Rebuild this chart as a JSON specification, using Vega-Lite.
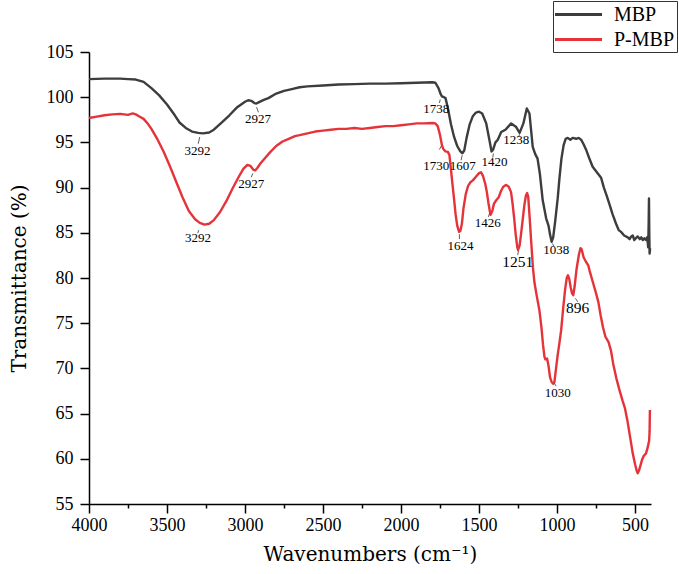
{
  "$schema": "https://vega.github.io/schema/vega-lite/v6.json",
  "width": 562,
  "height": 452,
  "autosize": "none",
  "padding": {"left": 89, "top": 52, "right": 28, "bottom": 70},
  "background": "white",
  "config": {
    "view": {"stroke": null},
    "axis": {
      "grid": false,
      "domainColor": "black",
      "domainWidth": 1.5,
      "tickColor": "black",
      "tickWidth": 1.5,
      "labelColor": "black",
      "labelFont": "Liberation Serif",
      "labelFontSize": 18,
      "titleColor": "black",
      "titleFont": "DejaVu Serif",
      "titleFontSize": 20,
      "titleFontWeight": "normal",
      "labelOverlap": false,
      "labelFlush": false
    }
  },
  "datasets": {
    "spectra": [
      {"sample":"MBP","wavenumber":4000,"transmittance":102.0},
      {"sample":"MBP","wavenumber":3900,"transmittance":102.05},
      {"sample":"MBP","wavenumber":3800,"transmittance":102.05},
      {"sample":"MBP","wavenumber":3750,"transmittance":102.0},
      {"sample":"MBP","wavenumber":3700,"transmittance":101.95},
      {"sample":"MBP","wavenumber":3650,"transmittance":101.7},
      {"sample":"MBP","wavenumber":3600,"transmittance":101.0},
      {"sample":"MBP","wavenumber":3550,"transmittance":100.2},
      {"sample":"MBP","wavenumber":3500,"transmittance":99.2},
      {"sample":"MBP","wavenumber":3450,"transmittance":98.0},
      {"sample":"MBP","wavenumber":3420,"transmittance":97.2},
      {"sample":"MBP","wavenumber":3380,"transmittance":96.6},
      {"sample":"MBP","wavenumber":3340,"transmittance":96.2},
      {"sample":"MBP","wavenumber":3300,"transmittance":96.05},
      {"sample":"MBP","wavenumber":3270,"transmittance":96.0},
      {"sample":"MBP","wavenumber":3230,"transmittance":96.1},
      {"sample":"MBP","wavenumber":3200,"transmittance":96.4},
      {"sample":"MBP","wavenumber":3150,"transmittance":97.2},
      {"sample":"MBP","wavenumber":3100,"transmittance":98.0},
      {"sample":"MBP","wavenumber":3050,"transmittance":98.9},
      {"sample":"MBP","wavenumber":3000,"transmittance":99.5},
      {"sample":"MBP","wavenumber":2980,"transmittance":99.66},
      {"sample":"MBP","wavenumber":2960,"transmittance":99.6},
      {"sample":"MBP","wavenumber":2940,"transmittance":99.35},
      {"sample":"MBP","wavenumber":2927,"transmittance":99.3},
      {"sample":"MBP","wavenumber":2910,"transmittance":99.45},
      {"sample":"MBP","wavenumber":2880,"transmittance":99.7},
      {"sample":"MBP","wavenumber":2850,"transmittance":99.9},
      {"sample":"MBP","wavenumber":2800,"transmittance":100.4},
      {"sample":"MBP","wavenumber":2750,"transmittance":100.7},
      {"sample":"MBP","wavenumber":2700,"transmittance":100.9},
      {"sample":"MBP","wavenumber":2650,"transmittance":101.1},
      {"sample":"MBP","wavenumber":2600,"transmittance":101.2},
      {"sample":"MBP","wavenumber":2500,"transmittance":101.3},
      {"sample":"MBP","wavenumber":2400,"transmittance":101.4},
      {"sample":"MBP","wavenumber":2300,"transmittance":101.45},
      {"sample":"MBP","wavenumber":2200,"transmittance":101.5},
      {"sample":"MBP","wavenumber":2100,"transmittance":101.5},
      {"sample":"MBP","wavenumber":2000,"transmittance":101.55},
      {"sample":"MBP","wavenumber":1900,"transmittance":101.6},
      {"sample":"MBP","wavenumber":1800,"transmittance":101.65},
      {"sample":"MBP","wavenumber":1780,"transmittance":101.6},
      {"sample":"MBP","wavenumber":1760,"transmittance":101.0},
      {"sample":"MBP","wavenumber":1745,"transmittance":100.3},
      {"sample":"MBP","wavenumber":1738,"transmittance":100.1},
      {"sample":"MBP","wavenumber":1725,"transmittance":100.0},
      {"sample":"MBP","wavenumber":1715,"transmittance":99.9},
      {"sample":"MBP","wavenumber":1700,"transmittance":98.8},
      {"sample":"MBP","wavenumber":1680,"transmittance":97.0},
      {"sample":"MBP","wavenumber":1660,"transmittance":95.6},
      {"sample":"MBP","wavenumber":1640,"transmittance":94.6},
      {"sample":"MBP","wavenumber":1620,"transmittance":94.0},
      {"sample":"MBP","wavenumber":1607,"transmittance":93.8},
      {"sample":"MBP","wavenumber":1595,"transmittance":94.1},
      {"sample":"MBP","wavenumber":1580,"transmittance":95.5},
      {"sample":"MBP","wavenumber":1560,"transmittance":97.0},
      {"sample":"MBP","wavenumber":1540,"transmittance":97.9},
      {"sample":"MBP","wavenumber":1520,"transmittance":98.3},
      {"sample":"MBP","wavenumber":1500,"transmittance":98.4},
      {"sample":"MBP","wavenumber":1480,"transmittance":98.2},
      {"sample":"MBP","wavenumber":1454,"transmittance":97.1},
      {"sample":"MBP","wavenumber":1433,"transmittance":95.2},
      {"sample":"MBP","wavenumber":1420,"transmittance":94.0},
      {"sample":"MBP","wavenumber":1410,"transmittance":94.2},
      {"sample":"MBP","wavenumber":1395,"transmittance":95.0},
      {"sample":"MBP","wavenumber":1380,"transmittance":95.3},
      {"sample":"MBP","wavenumber":1358,"transmittance":96.15},
      {"sample":"MBP","wavenumber":1331,"transmittance":96.4},
      {"sample":"MBP","wavenumber":1310,"transmittance":96.8},
      {"sample":"MBP","wavenumber":1294,"transmittance":97.1},
      {"sample":"MBP","wavenumber":1262,"transmittance":96.7},
      {"sample":"MBP","wavenumber":1240,"transmittance":96.05},
      {"sample":"MBP","wavenumber":1216,"transmittance":97.1},
      {"sample":"MBP","wavenumber":1194,"transmittance":98.75},
      {"sample":"MBP","wavenumber":1177,"transmittance":98.2},
      {"sample":"MBP","wavenumber":1156,"transmittance":94.5},
      {"sample":"MBP","wavenumber":1140,"transmittance":93.7},
      {"sample":"MBP","wavenumber":1125,"transmittance":93.2},
      {"sample":"MBP","wavenumber":1110,"transmittance":91.5},
      {"sample":"MBP","wavenumber":1092,"transmittance":88.6},
      {"sample":"MBP","wavenumber":1070,"transmittance":86.6},
      {"sample":"MBP","wavenumber":1055,"transmittance":85.8},
      {"sample":"MBP","wavenumber":1045,"transmittance":84.8},
      {"sample":"MBP","wavenumber":1035,"transmittance":84.0},
      {"sample":"MBP","wavenumber":1025,"transmittance":84.5},
      {"sample":"MBP","wavenumber":1012,"transmittance":86.3},
      {"sample":"MBP","wavenumber":996,"transmittance":88.8},
      {"sample":"MBP","wavenumber":985,"transmittance":91.0},
      {"sample":"MBP","wavenumber":972,"transmittance":93.2},
      {"sample":"MBP","wavenumber":958,"transmittance":94.7},
      {"sample":"MBP","wavenumber":945,"transmittance":95.4},
      {"sample":"MBP","wavenumber":932,"transmittance":95.5},
      {"sample":"MBP","wavenumber":915,"transmittance":95.3},
      {"sample":"MBP","wavenumber":900,"transmittance":95.5},
      {"sample":"MBP","wavenumber":878,"transmittance":95.4},
      {"sample":"MBP","wavenumber":862,"transmittance":95.5},
      {"sample":"MBP","wavenumber":846,"transmittance":95.3},
      {"sample":"MBP","wavenumber":830,"transmittance":94.8},
      {"sample":"MBP","wavenumber":814,"transmittance":94.2},
      {"sample":"MBP","wavenumber":795,"transmittance":93.3},
      {"sample":"MBP","wavenumber":772,"transmittance":92.3},
      {"sample":"MBP","wavenumber":745,"transmittance":91.7},
      {"sample":"MBP","wavenumber":718,"transmittance":91.1},
      {"sample":"MBP","wavenumber":700,"transmittance":90.0},
      {"sample":"MBP","wavenumber":680,"transmittance":89.0},
      {"sample":"MBP","wavenumber":665,"transmittance":88.2},
      {"sample":"MBP","wavenumber":645,"transmittance":87.1},
      {"sample":"MBP","wavenumber":622,"transmittance":86.0},
      {"sample":"MBP","wavenumber":605,"transmittance":85.3},
      {"sample":"MBP","wavenumber":590,"transmittance":85.1},
      {"sample":"MBP","wavenumber":570,"transmittance":84.7},
      {"sample":"MBP","wavenumber":547,"transmittance":84.5},
      {"sample":"MBP","wavenumber":535,"transmittance":84.3},
      {"sample":"MBP","wavenumber":525,"transmittance":84.6},
      {"sample":"MBP","wavenumber":515,"transmittance":84.7},
      {"sample":"MBP","wavenumber":505,"transmittance":84.2},
      {"sample":"MBP","wavenumber":495,"transmittance":84.4},
      {"sample":"MBP","wavenumber":483,"transmittance":84.6},
      {"sample":"MBP","wavenumber":470,"transmittance":84.3},
      {"sample":"MBP","wavenumber":460,"transmittance":84.5},
      {"sample":"MBP","wavenumber":450,"transmittance":84.2},
      {"sample":"MBP","wavenumber":440,"transmittance":84.4},
      {"sample":"MBP","wavenumber":430,"transmittance":84.2},
      {"sample":"MBP","wavenumber":422,"transmittance":84.5},
      {"sample":"MBP","wavenumber":416,"transmittance":83.4},
      {"sample":"MBP","wavenumber":413,"transmittance":86.0},
      {"sample":"MBP","wavenumber":411,"transmittance":88.8},
      {"sample":"MBP","wavenumber":409,"transmittance":85.0},
      {"sample":"MBP","wavenumber":407,"transmittance":82.7},
      {"sample":"MBP","wavenumber":404,"transmittance":83.3},
      {"sample":"P-MBP","wavenumber":4000,"transmittance":97.7},
      {"sample":"P-MBP","wavenumber":3950,"transmittance":97.85},
      {"sample":"P-MBP","wavenumber":3900,"transmittance":98.0},
      {"sample":"P-MBP","wavenumber":3850,"transmittance":98.1},
      {"sample":"P-MBP","wavenumber":3800,"transmittance":98.15},
      {"sample":"P-MBP","wavenumber":3750,"transmittance":98.05},
      {"sample":"P-MBP","wavenumber":3720,"transmittance":98.2},
      {"sample":"P-MBP","wavenumber":3700,"transmittance":98.1},
      {"sample":"P-MBP","wavenumber":3680,"transmittance":97.9},
      {"sample":"P-MBP","wavenumber":3650,"transmittance":97.6},
      {"sample":"P-MBP","wavenumber":3620,"transmittance":97.0},
      {"sample":"P-MBP","wavenumber":3600,"transmittance":96.5},
      {"sample":"P-MBP","wavenumber":3560,"transmittance":95.3},
      {"sample":"P-MBP","wavenumber":3520,"transmittance":93.9},
      {"sample":"P-MBP","wavenumber":3480,"transmittance":92.3},
      {"sample":"P-MBP","wavenumber":3440,"transmittance":90.6},
      {"sample":"P-MBP","wavenumber":3400,"transmittance":88.9},
      {"sample":"P-MBP","wavenumber":3360,"transmittance":87.4},
      {"sample":"P-MBP","wavenumber":3320,"transmittance":86.5},
      {"sample":"P-MBP","wavenumber":3290,"transmittance":86.1},
      {"sample":"P-MBP","wavenumber":3260,"transmittance":85.9},
      {"sample":"P-MBP","wavenumber":3230,"transmittance":86.0},
      {"sample":"P-MBP","wavenumber":3200,"transmittance":86.4},
      {"sample":"P-MBP","wavenumber":3160,"transmittance":87.3},
      {"sample":"P-MBP","wavenumber":3120,"transmittance":88.5},
      {"sample":"P-MBP","wavenumber":3080,"transmittance":89.9},
      {"sample":"P-MBP","wavenumber":3040,"transmittance":91.2},
      {"sample":"P-MBP","wavenumber":3010,"transmittance":92.1},
      {"sample":"P-MBP","wavenumber":2985,"transmittance":92.5},
      {"sample":"P-MBP","wavenumber":2965,"transmittance":92.4},
      {"sample":"P-MBP","wavenumber":2945,"transmittance":91.95},
      {"sample":"P-MBP","wavenumber":2935,"transmittance":91.9},
      {"sample":"P-MBP","wavenumber":2920,"transmittance":92.2},
      {"sample":"P-MBP","wavenumber":2900,"transmittance":92.7},
      {"sample":"P-MBP","wavenumber":2870,"transmittance":93.3},
      {"sample":"P-MBP","wavenumber":2840,"transmittance":93.9},
      {"sample":"P-MBP","wavenumber":2800,"transmittance":94.6},
      {"sample":"P-MBP","wavenumber":2760,"transmittance":95.1},
      {"sample":"P-MBP","wavenumber":2720,"transmittance":95.4},
      {"sample":"P-MBP","wavenumber":2680,"transmittance":95.7},
      {"sample":"P-MBP","wavenumber":2650,"transmittance":95.8},
      {"sample":"P-MBP","wavenumber":2600,"transmittance":96.0},
      {"sample":"P-MBP","wavenumber":2550,"transmittance":96.2},
      {"sample":"P-MBP","wavenumber":2500,"transmittance":96.3},
      {"sample":"P-MBP","wavenumber":2450,"transmittance":96.4},
      {"sample":"P-MBP","wavenumber":2400,"transmittance":96.5},
      {"sample":"P-MBP","wavenumber":2350,"transmittance":96.5},
      {"sample":"P-MBP","wavenumber":2300,"transmittance":96.6},
      {"sample":"P-MBP","wavenumber":2250,"transmittance":96.5},
      {"sample":"P-MBP","wavenumber":2200,"transmittance":96.6},
      {"sample":"P-MBP","wavenumber":2150,"transmittance":96.7},
      {"sample":"P-MBP","wavenumber":2100,"transmittance":96.8},
      {"sample":"P-MBP","wavenumber":2050,"transmittance":96.8},
      {"sample":"P-MBP","wavenumber":2000,"transmittance":96.9},
      {"sample":"P-MBP","wavenumber":1950,"transmittance":97.0},
      {"sample":"P-MBP","wavenumber":1900,"transmittance":97.1},
      {"sample":"P-MBP","wavenumber":1850,"transmittance":97.1},
      {"sample":"P-MBP","wavenumber":1800,"transmittance":97.15},
      {"sample":"P-MBP","wavenumber":1780,"transmittance":97.1},
      {"sample":"P-MBP","wavenumber":1765,"transmittance":96.8},
      {"sample":"P-MBP","wavenumber":1750,"transmittance":95.8},
      {"sample":"P-MBP","wavenumber":1738,"transmittance":94.7},
      {"sample":"P-MBP","wavenumber":1730,"transmittance":94.3},
      {"sample":"P-MBP","wavenumber":1715,"transmittance":94.0},
      {"sample":"P-MBP","wavenumber":1700,"transmittance":93.95},
      {"sample":"P-MBP","wavenumber":1690,"transmittance":93.6},
      {"sample":"P-MBP","wavenumber":1680,"transmittance":92.0},
      {"sample":"P-MBP","wavenumber":1665,"transmittance":89.5},
      {"sample":"P-MBP","wavenumber":1650,"transmittance":87.0},
      {"sample":"P-MBP","wavenumber":1640,"transmittance":85.8},
      {"sample":"P-MBP","wavenumber":1628,"transmittance":85.1},
      {"sample":"P-MBP","wavenumber":1620,"transmittance":85.2},
      {"sample":"P-MBP","wavenumber":1610,"transmittance":86.0},
      {"sample":"P-MBP","wavenumber":1600,"transmittance":87.7},
      {"sample":"P-MBP","wavenumber":1585,"transmittance":89.3},
      {"sample":"P-MBP","wavenumber":1570,"transmittance":90.2},
      {"sample":"P-MBP","wavenumber":1555,"transmittance":90.6},
      {"sample":"P-MBP","wavenumber":1540,"transmittance":90.8},
      {"sample":"P-MBP","wavenumber":1520,"transmittance":91.2},
      {"sample":"P-MBP","wavenumber":1500,"transmittance":91.6},
      {"sample":"P-MBP","wavenumber":1487,"transmittance":91.7},
      {"sample":"P-MBP","wavenumber":1475,"transmittance":91.3},
      {"sample":"P-MBP","wavenumber":1460,"transmittance":90.4},
      {"sample":"P-MBP","wavenumber":1450,"transmittance":89.5},
      {"sample":"P-MBP","wavenumber":1440,"transmittance":88.3},
      {"sample":"P-MBP","wavenumber":1430,"transmittance":87.3},
      {"sample":"P-MBP","wavenumber":1426,"transmittance":87.0},
      {"sample":"P-MBP","wavenumber":1415,"transmittance":87.4},
      {"sample":"P-MBP","wavenumber":1405,"transmittance":88.2},
      {"sample":"P-MBP","wavenumber":1390,"transmittance":88.6},
      {"sample":"P-MBP","wavenumber":1375,"transmittance":88.9},
      {"sample":"P-MBP","wavenumber":1360,"transmittance":89.6},
      {"sample":"P-MBP","wavenumber":1345,"transmittance":90.1},
      {"sample":"P-MBP","wavenumber":1326,"transmittance":90.3},
      {"sample":"P-MBP","wavenumber":1310,"transmittance":90.1},
      {"sample":"P-MBP","wavenumber":1295,"transmittance":89.5},
      {"sample":"P-MBP","wavenumber":1285,"transmittance":88.2},
      {"sample":"P-MBP","wavenumber":1275,"transmittance":86.6},
      {"sample":"P-MBP","wavenumber":1265,"transmittance":84.8},
      {"sample":"P-MBP","wavenumber":1255,"transmittance":83.4},
      {"sample":"P-MBP","wavenumber":1250,"transmittance":83.1},
      {"sample":"P-MBP","wavenumber":1240,"transmittance":83.6},
      {"sample":"P-MBP","wavenumber":1230,"transmittance":85.0},
      {"sample":"P-MBP","wavenumber":1220,"transmittance":86.5},
      {"sample":"P-MBP","wavenumber":1210,"transmittance":88.0},
      {"sample":"P-MBP","wavenumber":1200,"transmittance":89.1},
      {"sample":"P-MBP","wavenumber":1192,"transmittance":89.4},
      {"sample":"P-MBP","wavenumber":1185,"transmittance":89.0},
      {"sample":"P-MBP","wavenumber":1175,"transmittance":86.5},
      {"sample":"P-MBP","wavenumber":1165,"transmittance":83.8},
      {"sample":"P-MBP","wavenumber":1155,"transmittance":81.2},
      {"sample":"P-MBP","wavenumber":1145,"transmittance":79.5},
      {"sample":"P-MBP","wavenumber":1130,"transmittance":78.0},
      {"sample":"P-MBP","wavenumber":1113,"transmittance":76.4},
      {"sample":"P-MBP","wavenumber":1100,"transmittance":74.5},
      {"sample":"P-MBP","wavenumber":1090,"transmittance":72.6},
      {"sample":"P-MBP","wavenumber":1081,"transmittance":71.3},
      {"sample":"P-MBP","wavenumber":1075,"transmittance":71.0},
      {"sample":"P-MBP","wavenumber":1064,"transmittance":71.1},
      {"sample":"P-MBP","wavenumber":1055,"transmittance":70.3},
      {"sample":"P-MBP","wavenumber":1045,"transmittance":69.0},
      {"sample":"P-MBP","wavenumber":1035,"transmittance":68.5},
      {"sample":"P-MBP","wavenumber":1025,"transmittance":68.3},
      {"sample":"P-MBP","wavenumber":1017,"transmittance":68.5},
      {"sample":"P-MBP","wavenumber":1008,"transmittance":69.8},
      {"sample":"P-MBP","wavenumber":996,"transmittance":71.5},
      {"sample":"P-MBP","wavenumber":985,"transmittance":72.8},
      {"sample":"P-MBP","wavenumber":974,"transmittance":74.2},
      {"sample":"P-MBP","wavenumber":960,"transmittance":76.8},
      {"sample":"P-MBP","wavenumber":948,"transmittance":78.8},
      {"sample":"P-MBP","wavenumber":938,"transmittance":80.0},
      {"sample":"P-MBP","wavenumber":930,"transmittance":80.3},
      {"sample":"P-MBP","wavenumber":922,"transmittance":79.9},
      {"sample":"P-MBP","wavenumber":912,"transmittance":78.9},
      {"sample":"P-MBP","wavenumber":904,"transmittance":78.3},
      {"sample":"P-MBP","wavenumber":896,"transmittance":78.1},
      {"sample":"P-MBP","wavenumber":888,"transmittance":79.0},
      {"sample":"P-MBP","wavenumber":875,"transmittance":81.0},
      {"sample":"P-MBP","wavenumber":860,"transmittance":82.6},
      {"sample":"P-MBP","wavenumber":850,"transmittance":83.3},
      {"sample":"P-MBP","wavenumber":843,"transmittance":83.2},
      {"sample":"P-MBP","wavenumber":830,"transmittance":82.3},
      {"sample":"P-MBP","wavenumber":815,"transmittance":81.8},
      {"sample":"P-MBP","wavenumber":800,"transmittance":81.4},
      {"sample":"P-MBP","wavenumber":790,"transmittance":80.7},
      {"sample":"P-MBP","wavenumber":770,"transmittance":79.5},
      {"sample":"P-MBP","wavenumber":750,"transmittance":78.3},
      {"sample":"P-MBP","wavenumber":735,"transmittance":77.3},
      {"sample":"P-MBP","wavenumber":720,"transmittance":75.8},
      {"sample":"P-MBP","wavenumber":705,"transmittance":74.5},
      {"sample":"P-MBP","wavenumber":690,"transmittance":73.5},
      {"sample":"P-MBP","wavenumber":670,"transmittance":72.9},
      {"sample":"P-MBP","wavenumber":655,"transmittance":72.0},
      {"sample":"P-MBP","wavenumber":640,"transmittance":70.5},
      {"sample":"P-MBP","wavenumber":620,"transmittance":68.9},
      {"sample":"P-MBP","wavenumber":600,"transmittance":67.6},
      {"sample":"P-MBP","wavenumber":580,"transmittance":66.4},
      {"sample":"P-MBP","wavenumber":565,"transmittance":65.6},
      {"sample":"P-MBP","wavenumber":550,"transmittance":64.3},
      {"sample":"P-MBP","wavenumber":530,"transmittance":62.2},
      {"sample":"P-MBP","wavenumber":515,"transmittance":60.6},
      {"sample":"P-MBP","wavenumber":500,"transmittance":59.4},
      {"sample":"P-MBP","wavenumber":490,"transmittance":58.7},
      {"sample":"P-MBP","wavenumber":483,"transmittance":58.4},
      {"sample":"P-MBP","wavenumber":475,"transmittance":58.7},
      {"sample":"P-MBP","wavenumber":465,"transmittance":59.3},
      {"sample":"P-MBP","wavenumber":455,"transmittance":59.9},
      {"sample":"P-MBP","wavenumber":445,"transmittance":60.3},
      {"sample":"P-MBP","wavenumber":430,"transmittance":60.6},
      {"sample":"P-MBP","wavenumber":420,"transmittance":61.2},
      {"sample":"P-MBP","wavenumber":415,"transmittance":61.6},
      {"sample":"P-MBP","wavenumber":410,"transmittance":62.0},
      {"sample":"P-MBP","wavenumber":407,"transmittance":63.0},
      {"sample":"P-MBP","wavenumber":405,"transmittance":65.4}
    ],
    "peaks": [
      {"sample":"MBP","label":"3292","tx":3305,"ty":94.06,"x1":3290,"y1":95.6,"x2":3300,"y2":94.85},
      {"sample":"MBP","label":"2927","tx":2917,"ty":97.64,"x1":2926,"y1":98.9,"x2":2914,"y2":98.33},
      {"sample":"MBP","label":"1738","tx":1775,"ty":98.74,"x1":1749,"y1":99.74,"x2":1754,"y2":99.36},
      {"sample":"MBP","label":"1607","tx":1604,"ty":92.36,"x1":1608,"y1":93.58,"x2":1615,"y2":93.03},
      {"sample":"MBP","label":"1420","tx":1401,"ty":92.84,"x1":1408,"y1":93.77,"x2":1412,"y2":93.33},
      {"sample":"MBP","label":"1238","tx":1262,"ty":95.24,"x1":1241,"y1":95.9,"x2":1245,"y2":95.6},
      {"sample":"MBP","label":"1038","tx":1006,"ty":83.08,"x1":1030,"y1":83.82,"x2":1021,"y2":83.52},
      {"sample":"P-MBP","label":"3292","tx":3302,"ty":84.37,"x1":3297,"y1":85.29,"x2":3303,"y2":84.96},
      {"sample":"P-MBP","label":"2927","tx":2960,"ty":90.45,"x1":2950,"y1":91.56,"x2":2960,"y2":91.15},
      {"sample":"P-MBP","label":"1730","tx":1775,"ty":92.36,"x1":1743,"y1":94.58,"x2":1754,"y2":94.21},
      {"sample":"P-MBP","label":"1624","tx":1619,"ty":83.52,"x1":1626,"y1":84.85,"x2":1626,"y2":84.3},
      {"sample":"P-MBP","label":"1426","tx":1444,"ty":86.03,"x1":1433,"y1":87.14,"x2":1440,"y2":86.76},
      {"sample":"P-MBP","label":"1251","tx":1252,"ty":81.79,"x1":1248,"y1":83.0,"x2":1252,"y2":82.53},
      {"sample":"P-MBP","label":"896","tx":868,"ty":76.63,"x1":882,"y1":77.74,"x2":867,"y2":77.36},
      {"sample":"P-MBP","label":"1030","tx":996,"ty":67.24,"x1":1017,"y1":68.34,"x2":1006,"y2":68.04}
    ]
  },
  "layer": [
    {
      "data": {"name": "spectra"},
      "mark": {"type": "line", "strokeWidth": 2.4, "strokeJoin": "round"},
      "encoding": {
        "x": {
          "field": "wavenumber",
          "type": "quantitative",
          "scale": {"domain": [398, 4000], "reverse": true, "nice": false, "zero": false},
          "axis": {
            "title": "Wavenumbers (cm⁻¹)",
            "values": [4000, 3750, 3500, 3250, 3000, 2750, 2500, 2250, 2000, 1750, 1500, 1250, 1000, 750, 500],
            "labelExpr": "datum.value % 500 === 0 ? format(datum.value, 'd') : ''",
            "tickSize": {"condition": {"test": "datum.value % 500 === 0", "value": 9}, "value": 4},
            "labelPadding": 3,
            "titlePadding": 10
          }
        },
        "y": {
          "field": "transmittance",
          "type": "quantitative",
          "scale": {"domain": [55, 105], "nice": false, "zero": false},
          "axis": {
            "title": "Transmittance (%)",
            "values": [55, 57.5, 60, 62.5, 65, 67.5, 70, 72.5, 75, 77.5, 80, 82.5, 85, 87.5, 90, 92.5, 95, 97.5, 100, 102.5, 105],
            "labelExpr": "datum.value % 5 === 0 ? format(datum.value, 'd') : ''",
            "tickSize": {"condition": {"test": "datum.value % 5 === 0", "value": 9}, "value": 4},
            "labelPadding": 7,
            "titlePadding": 17
          }
        },
        "color": {
          "field": "sample",
          "type": "nominal",
          "scale": {"domain": ["MBP", "P-MBP"], "range": ["#3d3d3d", "#e5333a"]},
          "legend": {
            "title": null,
            "orient": "none",
            "legendX": 464,
            "legendY": -51,
            "padding": 2,
            "strokeColor": "#333333",
            "fillColor": "white",
            "symbolType": "M-1.15,0H3.55",
            "symbolSize": 400,
            "symbolStrokeWidth": 3,
            "labelFont": "Liberation Serif",
            "labelFontSize": 20,
            "labelColor": "black",
            "labelOffset": 36,
            "rowPadding": 3
          }
        }
      }
    },
    {
      "data": {"name": "peaks"},
      "mark": {"type": "rule", "strokeWidth": 0.8, "color": "#333333"},
      "encoding": {
        "x": {"field": "x1", "type": "quantitative"},
        "x2": {"field": "x2"},
        "y": {"field": "y1", "type": "quantitative"},
        "y2": {"field": "y2"}
      }
    },
    {
      "data": {"name": "peaks"},
      "mark": {"type": "text", "font": "Liberation Serif", "color": "black", "align": "center", "baseline": "middle"},
      "encoding": {
        "x": {"field": "tx", "type": "quantitative"},
        "y": {"field": "ty", "type": "quantitative"},
        "text": {"field": "label"},
        "size": {"condition": {"test": "datum.label === '1251' || datum.label === '896'", "value": 15.5}, "value": 13}
      }
    }
  ]
}
